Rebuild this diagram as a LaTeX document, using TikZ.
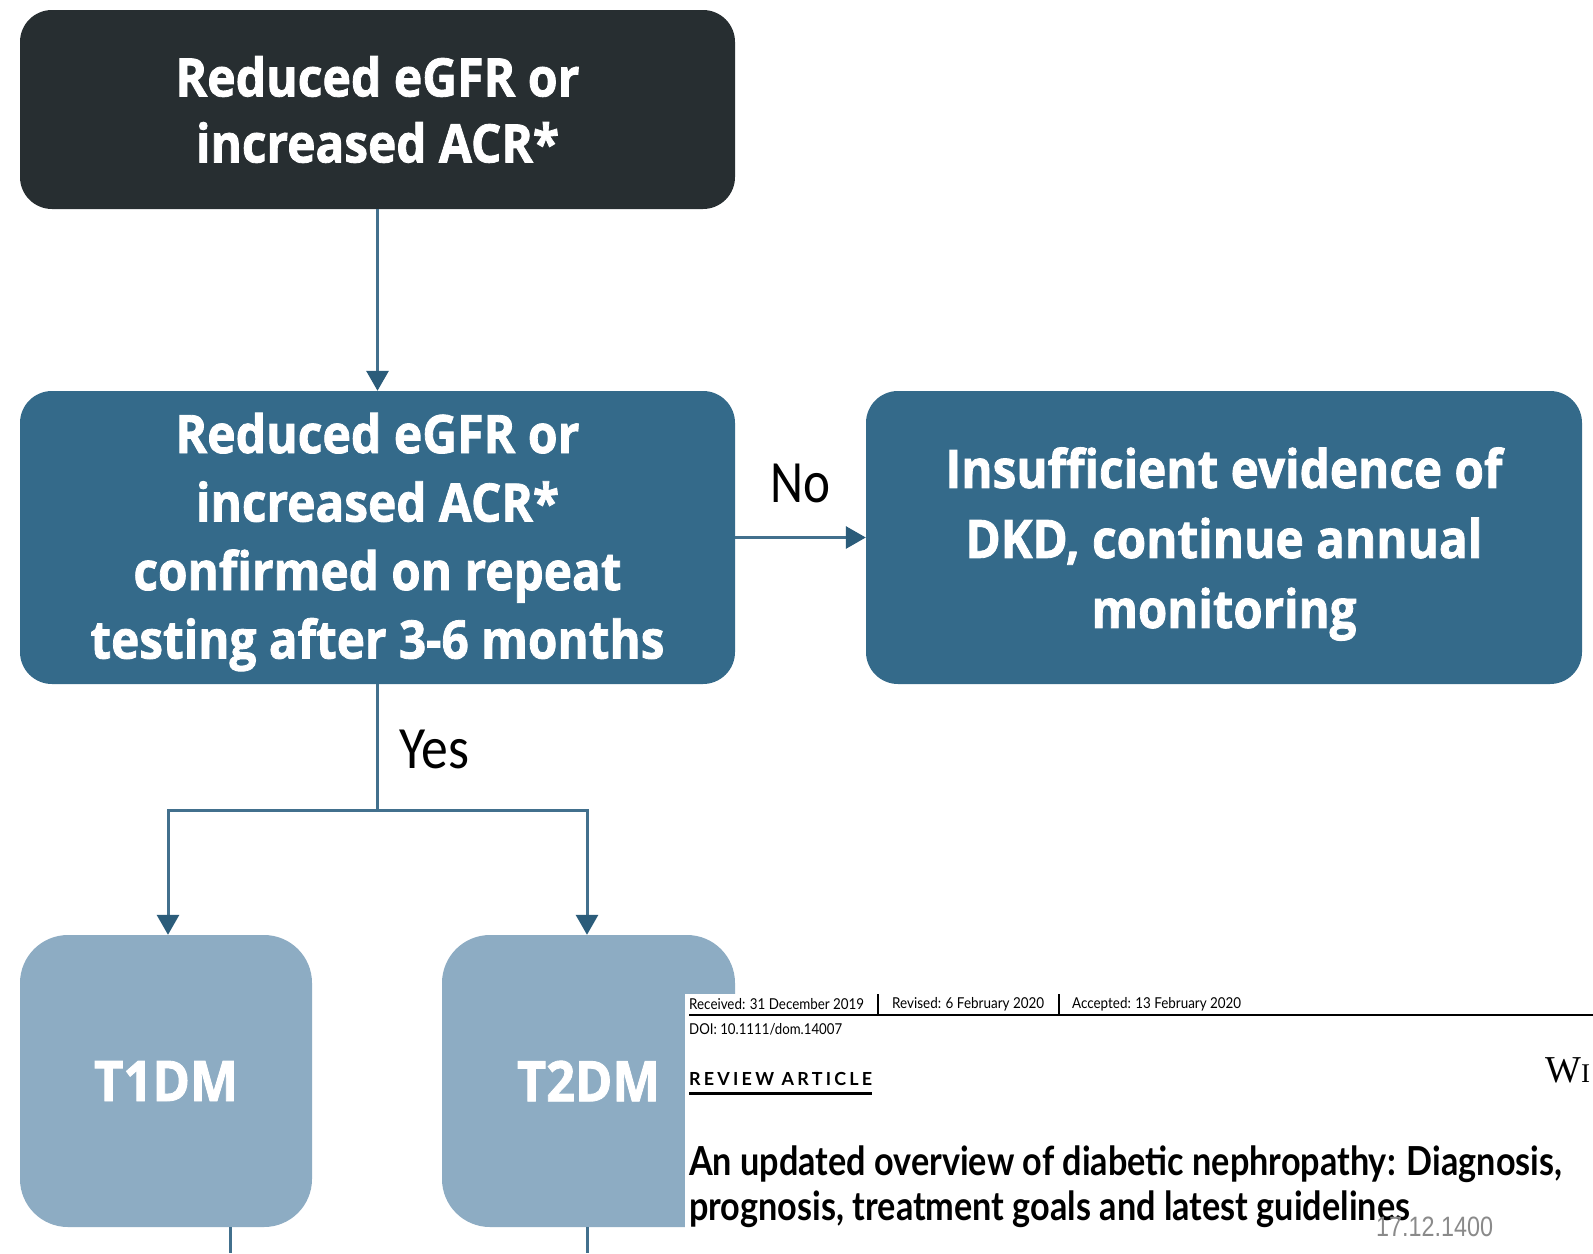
\documentclass[tikz,border=0pt]{standalone}
\usepackage{fontspec}
\usepackage{graphicx}
\usetikzlibrary{arrows.meta}
\setmainfont{Open Sans}[BoldFeatures={FakeBold=1.6}]
\newfontfamily\labelfont{Carlito}
\newfontfamily\latofont{Lato}
\newfontfamily\latospaced{Lato}[LetterSpace=18]
\newfontfamily\serifhead{Liberation Serif}
\newfontfamily\stampfont{Liberation Sans}

% set a line at a given width (in pt), keeping its height
\newcommand\fitline[2]{\resizebox{#1pt}{\height}{#2}}

\definecolor{boxdark}{RGB}{39,46,49}
\definecolor{boxmid}{RGB}{52,106,138}
\definecolor{boxlight}{RGB}{141,172,195}
\definecolor{linkblue}{RGB}{66,112,141}
\definecolor{tipblue}{RGB}{43,92,122}
\definecolor{stampgray}{RGB}{138,138,138}

\tikzset{
  flowbox/.style={rectangle, rounded corners=32pt, inner sep=0pt, align=center,
    text=white, font=\fontsize{53}{66}\selectfont\bfseries},
  darkbox/.style={flowbox, fill=boxdark},
  midbox/.style={flowbox, fill=boxmid},
  boxtext/.style={inner sep=0pt, align=center, text=white},
  typebox/.style={flowbox, fill=boxlight, rounded corners=48pt,
    font=\fontsize{56}{66}\selectfont\bfseries},
  link/.style={draw=linkblue, line width=3pt},
  arrowlink/.style={link, -{Triangle[width=22pt,length=20pt,color=tipblue]}},
  answer/.style={inner sep=0pt, font=\labelfont\fontsize{60}{60}\selectfont},
  headtext/.style={anchor=west, inner sep=0pt, font=\latofont\fontsize{15}{15}\selectfont},
}

\begin{document}
\begin{tikzpicture}[x=1pt,y=-1pt]
\useasboundingbox (0,0) rectangle (1593,1253);
\fill[white] (0,0) rectangle (1593,1253);

% flowchart boxes
\node[darkbox, minimum width=715pt, minimum height=199pt] (start) at (377.5,109.5)
  {\fitline{404}{Reduced eGFR or}\\ \fitline{363}{increased ACR*}};
\node[midbox, minimum width=715pt, minimum height=293pt] (confirm) at (377.5,537.5) {};
\node[boxtext, font=\fontsize{53}{68.5}\selectfont\bfseries] (confirmtext) at (377.5,542)
  {\fitline{404}{Reduced eGFR or}\\ \fitline{363}{increased ACR*}\\
   \fitline{488}{confirmed on repeat}\\ \fitline{574}{testing after 3-6 months}};
\node[midbox, minimum width=716pt, minimum height=293pt] (insuff) at (1224,537.5) {};
\node[boxtext, font=\fontsize{53}{70}\selectfont\bfseries] (insufftext) at (1224,544)
  {\fitline{557}{Insufficient evidence of}\\ \fitline{517}{DKD, continue annual}\\
   \fitline{265}{monitoring}};
\node[typebox, minimum width=292pt, minimum height=292pt] (t1) at (166,1081)
  {\fitline{144}{T1DM}};
\node[typebox, minimum width=293pt, minimum height=292pt] (t2) at (588.5,1081)
  {\fitline{143}{T2DM}};

% connectors
\coordinate (split) at (377.5,810);
\coordinate (t1end) at (230,1253);
\coordinate (t2end) at (587,1253);
\draw[arrowlink] (start.south) -- (confirm.north);
\draw[arrowlink] (confirm.east) -- (insuff.west);
\draw[link] (confirm.south) -- (split);
\draw[arrowlink] (split) -| ([xshift=2pt]t1.north);
\draw[arrowlink] (split) -| ([xshift=-1.5pt]t2.north);
\draw[link] (t1.south -| t1end) -- (t1end);
\draw[link] (t2.south -| t2end) -- (t2end);

\node[answer] (no) at (800,483) {\fitline{60}{No}};
\node[answer] (yes) at (434,749) {\fitline{70}{Yes}};

% article header panel
\fill[white] (685,994) rectangle (1593,1253);
\node[headtext] (recv) at (689,1004) {\fitline{175}{Received: 31 December 2019}};
\node[headtext] (rev) at (892,1004) {\fitline{152}{Revised: 6 February 2020}};
\node[headtext] (acc) at (1072,1004) {\fitline{169}{Accepted: 13 February 2020}};
\draw[line width=1.5pt] (878,994) -- (878,1015);
\draw[line width=1.5pt] (1059,994) -- (1059,1015);
\draw[line width=1.5pt] (689,1015) -- (1593,1015);
\node[headtext] (doi) at (689,1029) {\fitline{153}{DOI: 10.1111/dom.14007}};
\node[headtext, font=\latospaced\bfseries\fontsize{18}{18}\selectfont] (kind) at (689,1079)
  {\fitline{183}{REVIEW ARTICLE}};
\draw[line width=3pt] (689,1093) -- (872,1093);
\node[anchor=west, inner sep=0pt, font=\serifhead] (publisher) at (1545,1070)
  {\fontsize{38}{38}\selectfont W\fontsize{27}{27}\selectfont I};
\node[headtext, font=\latofont\bfseries\fontsize{40}{40}\selectfont] (title1) at (689,1164)
  {\fitline{873}{An updated overview of diabetic nephropathy: Diagnosis,}};
\node[headtext, font=\latofont\bfseries\fontsize{40}{40}\selectfont] (title2) at (689,1209)
  {\fitline{721}{prognosis, treatment goals and latest guidelines}};
\node[headtext, text=stampgray, font=\stampfont\fontsize{28}{28}\selectfont] (stamp) at (1376,1227)
  {\fitline{117}{17.12.1400}};
\end{tikzpicture}
\end{document}
